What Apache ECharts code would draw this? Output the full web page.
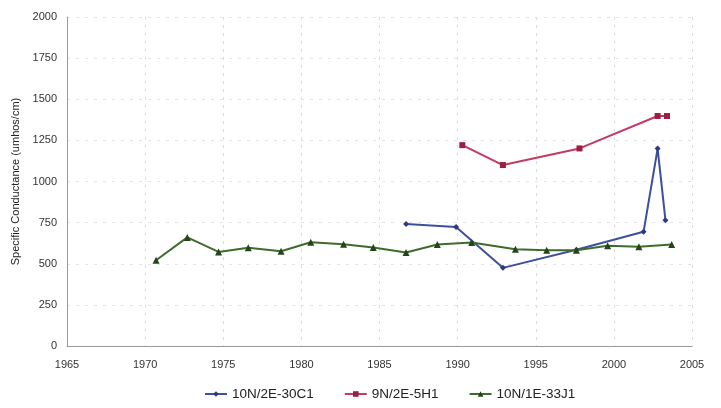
<!DOCTYPE html>
<html><head><meta charset="utf-8">
<script src="https://cdn.jsdelivr.net/npm/echarts@6/dist/echarts.min.js"></script>
<style>html,body{margin:0;padding:0;background:#fff}#c{width:721px;height:408px}</style>
</head><body><div id="c"></div>
<script>
const xTicks = [1965, 1970, 1975, 1980, 1985, 1990, 1995, 2000, 2005];
const yTicks = [0, 250, 500, 750, 1000, 1250, 1500, 1750, 2000];
const seriesNames = ['10N/2E-30C1', '9N/2E-5H1', '10N/1E-33J1'];
const blueYears = [1986.7, 1989.9, 1992.9, 1997.6, 2001.9, 2002.8, 2003.3];
const blueVals  = [741, 724, 475, 585, 694, 1200, 765];
const redYears  = [1990.3, 1992.9, 1997.8, 2002.8, 2003.4];
const redVals   = [1221, 1100, 1201, 1398, 1398];
const greenYears = [1970.7, 1972.7, 1974.7, 1976.6, 1978.7, 1980.6, 1982.7, 1984.6, 1986.7, 1988.7, 1990.9, 1993.7, 1995.7, 1997.6, 1999.6, 2001.6, 2003.7];
const greenVals  = [521, 660, 572, 597, 576, 631, 619, 599, 568, 617, 629, 588, 582, 582, 609, 603, 617];

const pair = (xs, ys) => xs.map((x, i) => [x, ys[i]]);
const chart = echarts.init(document.getElementById('c'));
const font = 'Liberation Sans, Arial, sans-serif';
chart.setOption({
  animation: false,
  grid: {left: 67, right: 29, top: 17, bottom: 62},
  legend: {
    bottom: 2, left: 199, itemGap: 30, itemWidth: 22, itemHeight: 7,
    textStyle: {fontFamily: font, fontSize: 13.5, color: '#222'},
    data: seriesNames
  },
  xAxis: {
    type: 'value', min: xTicks[0], max: xTicks[xTicks.length - 1], interval: 5,
    axisLine: {lineStyle: {color: '#999'}},
    axisTick: {show: false},
    axisLabel: {fontFamily: font, fontSize: 11, color: '#333', margin: 13, formatter: v => String(v)},
    splitLine: {show: true, lineStyle: {color: '#ddd', type: [3, 5]}}
  },
  yAxis: {
    type: 'value', min: yTicks[0], max: yTicks[yTicks.length - 1], interval: 250,
    name: 'Specific Conductance (umhos/cm)', nameLocation: 'middle', nameGap: 41,
    nameTextStyle: {fontFamily: font, fontSize: 11, color: '#222'},
    axisLine: {show: true, lineStyle: {color: '#999'}},
    axisTick: {show: false},
    axisLabel: {fontFamily: font, fontSize: 11, color: '#333', margin: 10, formatter: v => String(v)},
    splitLine: {show: true, lineStyle: {color: '#e4e4e4', type: [3, 6]}}
  },
  series: [
    {name: seriesNames[0], type: 'line', data: pair(blueYears, blueVals),
     symbol: 'diamond', symbolSize: 6, lineStyle: {color: '#3d4f9e', width: 2},
     itemStyle: {color: '#2b3a80'}, z: 3},
    {name: seriesNames[1], type: 'line', data: pair(redYears, redVals),
     symbol: 'rect', symbolSize: 6, lineStyle: {color: '#c43a62', width: 2},
     itemStyle: {color: '#9c1f40'}, z: 2},
    {name: seriesNames[2], type: 'line', data: pair(greenYears, greenVals),
     symbol: 'triangle', symbolSize: 7, lineStyle: {color: '#3f6b2c', width: 2},
     itemStyle: {color: '#24451a'}, z: 4}
  ]
});
</script></body></html>
